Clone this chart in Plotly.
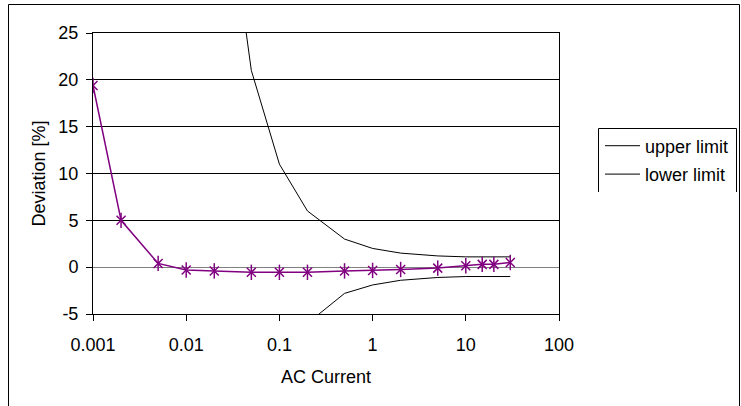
import plotly.graph_objects as go

# ---- data ----
current = [0.001, 0.002, 0.005, 0.01, 0.02, 0.05, 0.1, 0.2, 0.5, 1, 2, 5, 10, 15, 20, 30]
deviation = [19.4, 5.0, 0.4, -0.3, -0.4, -0.55, -0.55, -0.55, -0.4, -0.35, -0.25, -0.1, 0.15, 0.3, 0.3, 0.5]

limit_current = [0.02, 0.05, 0.1, 0.2, 0.5, 1, 2, 5, 10, 30]
upper_limit = [50, 21, 11, 6, 3, 2, 1.5, 1.2, 1.1, 1.1]
lower_limit = [-50, -21, -11, -6, -2.8, -1.9, -1.4, -1.1, -1.0, -1.0]

x_tickvals = [0.001, 0.01, 0.1, 1, 10, 100]
x_ticktext = ["0.001", "0.01", "0.1", "1", "10", "100"]
y_tickvals = [-5, 0, 5, 10, 15, 20, 25]
y_ticktext = ["-5", "0", "5", "10", "15", "20", "25"]

FONT = "Liberation Sans, Arial, sans-serif"
PURPLE = "#800080"

fig = go.Figure()

fig.add_trace(go.Scatter(x=limit_current, y=upper_limit, mode="lines", name="upper limit",
                         line=dict(color="black", width=1), legendgroup="a"))
fig.add_trace(go.Scatter(x=limit_current, y=lower_limit, mode="lines", name="lower limit",
                         line=dict(color="black", width=1), legendgroup="b"))
fig.add_trace(go.Scatter(x=current, y=deviation, mode="lines+markers", showlegend=False,
                         line=dict(color=PURPLE, width=1.5),
                         marker=dict(symbol="x-thin-open", size=9, color=PURPLE,
                                     line=dict(color=PURPLE, width=1.5))))
fig.add_trace(go.Scatter(x=current, y=deviation, mode="markers", showlegend=False,
                         marker=dict(symbol="line-ns-open", size=11, color=PURPLE,
                                     line=dict(color=PURPLE, width=1.5))))

L, R, T, B = 93, 182, 33, 92
W, H = 741, 406
pw, ph = W - L - R, H - T - B


def px_x(p):
    return (p - L) / pw


def px_y(p):
    return (H - B - p) / ph


shapes = [
    # chart border
    dict(type="rect", xref="paper", yref="paper", x0=px_x(8.5), x1=px_x(739.5),
         y0=px_y(430), y1=px_y(4.5), line=dict(color="black", width=1), layer="below"),
    # legend box (open at bottom, as in the reference)
    dict(type="path", xref="paper", yref="paper",
         path=f"M {px_x(598.5)},{px_y(192)} L {px_x(598.5)},{px_y(128.5)} "
              f"L {px_x(736.5)},{px_y(128.5)} L {px_x(736.5)},{px_y(192)}",
         line=dict(color="black", width=1)),
]

fig.update_layout(
    width=W, height=H,
    margin=dict(l=L, r=R, t=T, b=B, autoexpand=False),
    paper_bgcolor="white", plot_bgcolor="white",
    font=dict(family=FONT, size=18, color="black"),
    shapes=shapes,
    legend=dict(x=px_x(600), xanchor="left", y=px_y(127.5), yanchor="top",
                bgcolor="rgba(0,0,0,0)", borderwidth=0, traceorder="grouped",
                tracegroupgap=2, font=dict(size=18, family=FONT), itemwidth=35),
    xaxis=dict(type="log", range=[-3, 2], tickmode="array", tickvals=x_tickvals,
               ticktext=x_ticktext, ticks="outside", ticklen=6, tickcolor="black",
               showline=True, linecolor="black", linewidth=1, mirror=True,
               showgrid=False, zeroline=False, automargin=False,
               ticklabelstandoff=8,
               title=dict(text="AC Current", standoff=16, font=dict(size=18))),
    xaxis2=dict(type="log", range=[-3, 2], overlaying="x", anchor="y", side="bottom",
                tickmode="array", tickvals=x_tickvals, ticks="inside", ticklen=6,
                tickcolor="black", showticklabels=False, showline=False,
                showgrid=False, zeroline=False),
    yaxis=dict(range=[-5, 25], tickmode="array", tickvals=y_tickvals,
               ticktext=y_ticktext,
               ticks="outside", ticklen=6, tickcolor="black",
               showline=True, linecolor="black", linewidth=1, mirror=True,
               showgrid=True, gridcolor="black", gridwidth=1,
               zeroline=True, zerolinecolor="#808080", zerolinewidth=1,
               automargin=False, ticklabelstandoff=4,
               title=dict(text="Deviation [%]", standoff=8, font=dict(size=18))),
)

fig.write_html("out.html")
